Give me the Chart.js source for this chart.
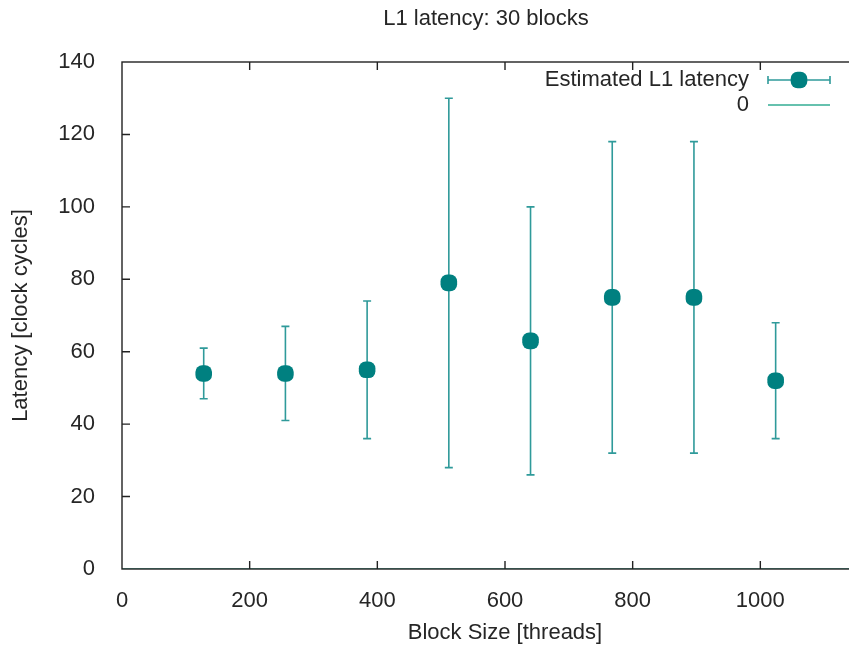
<!DOCTYPE html>
<html>
<head>
<meta charset="utf-8">
<title>L1 latency: 30 blocks</title>
<script src="https://cdn.jsdelivr.net/npm/chart.js@4/dist/chart.umd.min.js"></script>
<style>
  html, body { margin: 0; padding: 0; background: #fff; overflow: hidden; }
  #wrap { width: 972px; height: 648px; }
</style>
</head>
<body>
<div id="wrap"><canvas id="chart" width="972" height="648"></canvas></div>
<script>
// Measured L1 latency per block size (30 blocks)
const blockSizes = [128, 256, 384, 512, 640, 768, 896, 1024];
const latency    = [54, 54, 55, 79, 63, 75, 75, 52];
const latencyMin = [47, 41, 36, 28, 26, 32, 32, 36];
const latencyMax = [61, 67, 74, 130, 100, 118, 118, 68];

const chartTitle = 'L1 latency: 30 blocks';
const xTitle = 'Block Size [threads]';
const yTitle = 'Latency [clock cycles]';
const seriesNames = ['Estimated L1 latency', '0'];

const TEAL = '#008080';
const BAR = '#2f9a9a';
const GREEN = '#33ad93';
const TEXT = '#262626';
const FONT = { family: '"Liberation Sans", Arial, sans-serif', size: 22 };

// Filled marker: a circle slightly squared off
function drawMarker(ctx, cx, cy, r) {
  ctx.beginPath();
  if (ctx.roundRect) {
    ctx.roundRect(cx - r, cy - r, 2 * r, 2 * r, r * 0.82);
  } else {
    ctx.arc(cx, cy, r, 0, Math.PI * 2);
  }
  ctx.fill();
}

// Vertical error bars with caps, drawn underneath the markers
const errorBars = {
  id: 'errorBars',
  beforeDatasetsDraw(chart) {
    const { ctx, scales: { x, y } } = chart;
    ctx.save();
    ctx.strokeStyle = BAR;
    ctx.lineWidth = 1.6;
    const cap = 4;
    blockSizes.forEach((b, i) => {
      const px = x.getPixelForValue(b);
      const lo = y.getPixelForValue(latencyMin[i]);
      const hi = y.getPixelForValue(latencyMax[i]);
      ctx.beginPath();
      ctx.moveTo(px, lo); ctx.lineTo(px, hi);
      ctx.moveTo(px - cap, lo); ctx.lineTo(px + cap, lo);
      ctx.moveTo(px - cap, hi); ctx.lineTo(px + cap, hi);
      ctx.stroke();
    });
    ctx.restore();
  }
};

// Markers drawn on top of the error bars, placed through the scales
const markers = {
  id: 'markers',
  afterDatasetsDraw(chart) {
    const { ctx } = chart;
    const meta = chart.getDatasetMeta(0);
    ctx.save();
    ctx.fillStyle = TEAL;
    meta.data.forEach(pt => drawMarker(ctx, pt.x, pt.y, 8.3));
    ctx.restore();
  }
};

// Plot border with inward tick marks, title and key
const frame = {
  id: 'frame',
  afterDraw(chart) {
    const { ctx, chartArea: a, scales: { x, y } } = chart;
    ctx.save();
    ctx.strokeStyle = '#222';
    ctx.lineWidth = 1.4;
    ctx.strokeRect(a.left, a.top, a.right - a.left, a.bottom - a.top);
    const tl = 8;
    ctx.beginPath();
    x.ticks.forEach(t => {
      const px = x.getPixelForValue(t.value);
      if (px <= a.left + 1 || px >= a.right - 1) return;
      ctx.moveTo(px, a.bottom); ctx.lineTo(px, a.bottom - tl);
      ctx.moveTo(px, a.top); ctx.lineTo(px, a.top + tl);
    });
    y.ticks.forEach(t => {
      const py = y.getPixelForValue(t.value);
      if (py <= a.top + 1 || py >= a.bottom - 1) return;
      ctx.moveTo(a.left, py); ctx.lineTo(a.left + tl, py);
      ctx.moveTo(a.right, py); ctx.lineTo(a.right - tl, py);
    });
    ctx.stroke();

    // title
    ctx.fillStyle = TEXT;
    ctx.font = `${FONT.size}px ${FONT.family}`;
    ctx.textAlign = 'center';
    ctx.textBaseline = 'middle';
    ctx.fillText(chartTitle, chart.width / 2, 19);

    // key
    const textRight = 749, s0 = 768, s1 = 830, mid = (s0 + s1) / 2;
    const row1 = 80, row2 = 105;
    ctx.textAlign = 'right';
    ctx.fillText(seriesNames[0], textRight, row1);
    ctx.fillText(seriesNames[1], textRight, row2);

    ctx.strokeStyle = BAR;
    ctx.lineWidth = 1.6;
    ctx.beginPath();
    ctx.moveTo(s0, row1); ctx.lineTo(s1, row1);
    ctx.moveTo(s0, row1 - 4); ctx.lineTo(s0, row1 + 4);
    ctx.moveTo(s1, row1 - 4); ctx.lineTo(s1, row1 + 4);
    ctx.stroke();
    ctx.fillStyle = TEAL;
    drawMarker(ctx, mid, row1, 8.3);

    ctx.strokeStyle = GREEN;
    ctx.lineWidth = 1.6;
    ctx.beginPath();
    ctx.moveTo(s0, row2); ctx.lineTo(s1, row2);
    ctx.stroke();
    ctx.restore();
  }
};

new Chart(document.getElementById('chart'), {
  type: 'scatter',
  data: {
    datasets: [
      {
        label: seriesNames[0],
        data: blockSizes.map((b, i) => ({ x: b, y: latency[i] })),
        backgroundColor: TEAL,
        borderWidth: 0,
        pointRadius: 0,
        pointHoverRadius: 0,
        showLine: false
      },
      {
        label: seriesNames[1],
        type: 'line',
        data: [{ x: 0, y: 0 }, { x: 1200, y: 0 }],
        borderColor: GREEN,
        borderWidth: 1.6,
        pointRadius: 0,
        showLine: true
      }
    ]
  },
  options: {
    responsive: false,
    animation: false,
    layout: { padding: { top: 62, right: 84, left: 0, bottom: 0 } },
    plugins: {
      legend: { display: false },
      title: { display: false },
      tooltip: { enabled: false }
    },
    scales: {
      x: {
        type: 'linear',
        min: 0,
        max: 1200,
        ticks: { stepSize: 200, padding: 11, font: FONT, color: TEXT, maxRotation: 0,
                 callback: v => String(v) },
        grid: { display: false },
        border: { display: false },
        title: { display: true, text: xTitle, font: FONT, color: TEXT, padding: { top: 0, bottom: 2 } },
        afterFit(s) { s.height = 79; }
      },
      y: {
        min: 0,
        max: 140,
        ticks: { stepSize: 20, padding: 19, font: FONT, color: TEXT, callback: v => String(v) },
        grid: { display: false },
        border: { display: false },
        title: { display: true, text: yTitle, font: FONT, color: TEXT, padding: { top: 8, bottom: 0 } },
        afterFit(s) { s.width = 122; }
      }
    }
  },
  plugins: [errorBars, markers, frame]
});
</script>
</body>
</html>
